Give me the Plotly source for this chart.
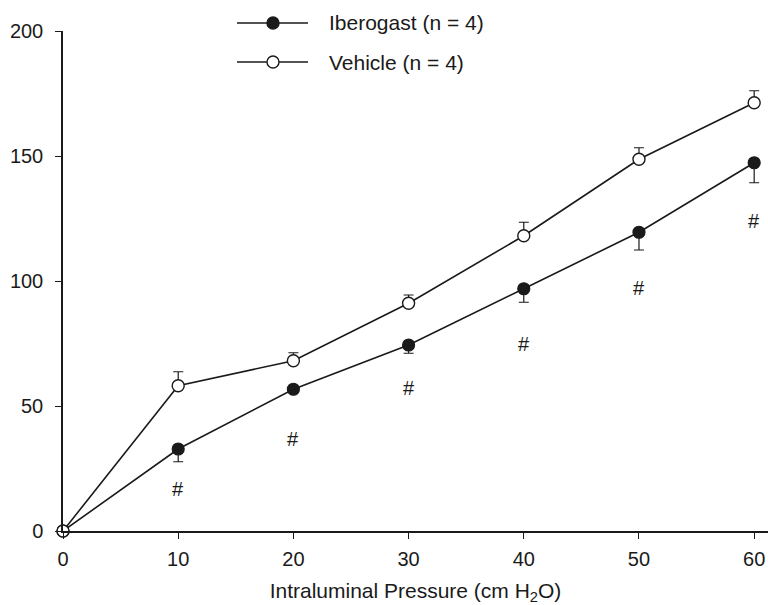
import plotly.graph_objects as go

pressure = [0, 10, 20, 30, 40, 50, 60]
iberogast = [0, 32.8, 56.7, 74.4, 96.9, 119.5, 147.3]
iberogast_sem = [0, 5.1, 1.0, 3.3, 5.4, 7.1, 8.0]
vehicle = [0, 58.1, 68.1, 91.1, 118.1, 148.7, 171.3]
vehicle_sem = [0, 5.6, 3.2, 3.3, 5.4, 4.6, 4.8]
hash_x = [10, 20, 30, 40, 50, 60]
hash_y = [16.8, 37.0, 57.2, 75.0, 97.3, 124.0]
legend_names = ["Iberogast (n = 4)", "Vehicle (n = 4)"]

INK = "#1a1a1a"
FONT = "Liberation Sans, Arial, sans-serif"

fig = go.Figure()

fig.add_trace(go.Scatter(
    x=pressure, y=iberogast, mode="lines+markers", name=legend_names[0],
    line=dict(color=INK, width=1.6),
    marker=dict(size=12, color=INK, line=dict(color=INK, width=1.2)),
    error_y=dict(type="data", symmetric=False, array=[0]*len(iberogast),
                 arrayminus=iberogast_sem, color=INK, thickness=1.2, width=5),
    cliponaxis=False, showlegend=False,
))
fig.add_trace(go.Scatter(
    x=pressure, y=vehicle, mode="lines+markers", name=legend_names[1],
    line=dict(color=INK, width=1.6),
    marker=dict(size=12, color="white", line=dict(color=INK, width=1.4)),
    error_y=dict(type="data", symmetric=False, array=vehicle_sem,
                 arrayminus=[0]*len(vehicle), color=INK, thickness=1.2, width=5),
    cliponaxis=False, showlegend=False,
))

for hx, hy in zip(hash_x, hash_y):
    fig.add_annotation(x=hx, y=hy, text="#", showarrow=False,
                       font=dict(family=FONT, size=20, color=INK))

# manual legend (paper coordinates)
plot_l, plot_w, plot_b, plot_h = 63, 705, 531, 500
def px2paper(px, py):
    return (px - plot_l) / plot_w, (plot_b - py) / plot_h

shapes = []
for i, (name, fill) in enumerate(zip(legend_names, [INK, "white"])):
    py = 23 + i * 39
    x0, y0 = px2paper(237, py)
    x1, _ = px2paper(308, py)
    xm, _ = px2paper(273, py)
    xt, _ = px2paper(327, py)
    shapes.append(dict(type="line", xref="paper", yref="paper", x0=x0, x1=x1,
                       y0=y0, y1=y0, line=dict(color=INK, width=1.6)))
    shapes.append(dict(type="circle", xref="paper", yref="paper",
                       xsizemode="pixel", ysizemode="pixel",
                       xanchor=xm, yanchor=y0, x0=-6, x1=6, y0=-6, y1=6,
                       fillcolor=fill, line=dict(color=INK, width=1.4)))
    fig.add_annotation(xref="paper", yref="paper", x=xt, y=y0, text=name,
                       xanchor="left", yanchor="middle", showarrow=False,
                       font=dict(family=FONT, size=21, color=INK))

fig.update_layout(
    width=768, height=605,
    margin=dict(l=63, r=0, t=31, b=74),
    paper_bgcolor="white", plot_bgcolor="white",
    font=dict(family=FONT, size=20, color=INK),
    shapes=shapes,
    xaxis=dict(range=[0, 61.2], tickvals=[0, 10, 20, 30, 40, 50, 60],
               showline=True, linecolor=INK, linewidth=1.5,
               ticks="outside", ticklen=6, tickwidth=1.3, tickcolor=INK,
               showgrid=False, zeroline=False, ticklabelstandoff=3,
               title=dict(text="Intraluminal Pressure (cm H<sub>2</sub>O)",
                          standoff=17, font=dict(size=21))),
    yaxis=dict(range=[0, 200], tickvals=[0, 50, 100, 150, 200],
               showline=True, linecolor=INK, linewidth=1.5,
               ticks="outside", ticklen=6, tickwidth=1.3, tickcolor=INK,
               showgrid=False, zeroline=False, ticklabelstandoff=8),
)

fig.write_html("out.html", config={"displayModeBar": False},
               post_script="document.body.style.margin='0';")
